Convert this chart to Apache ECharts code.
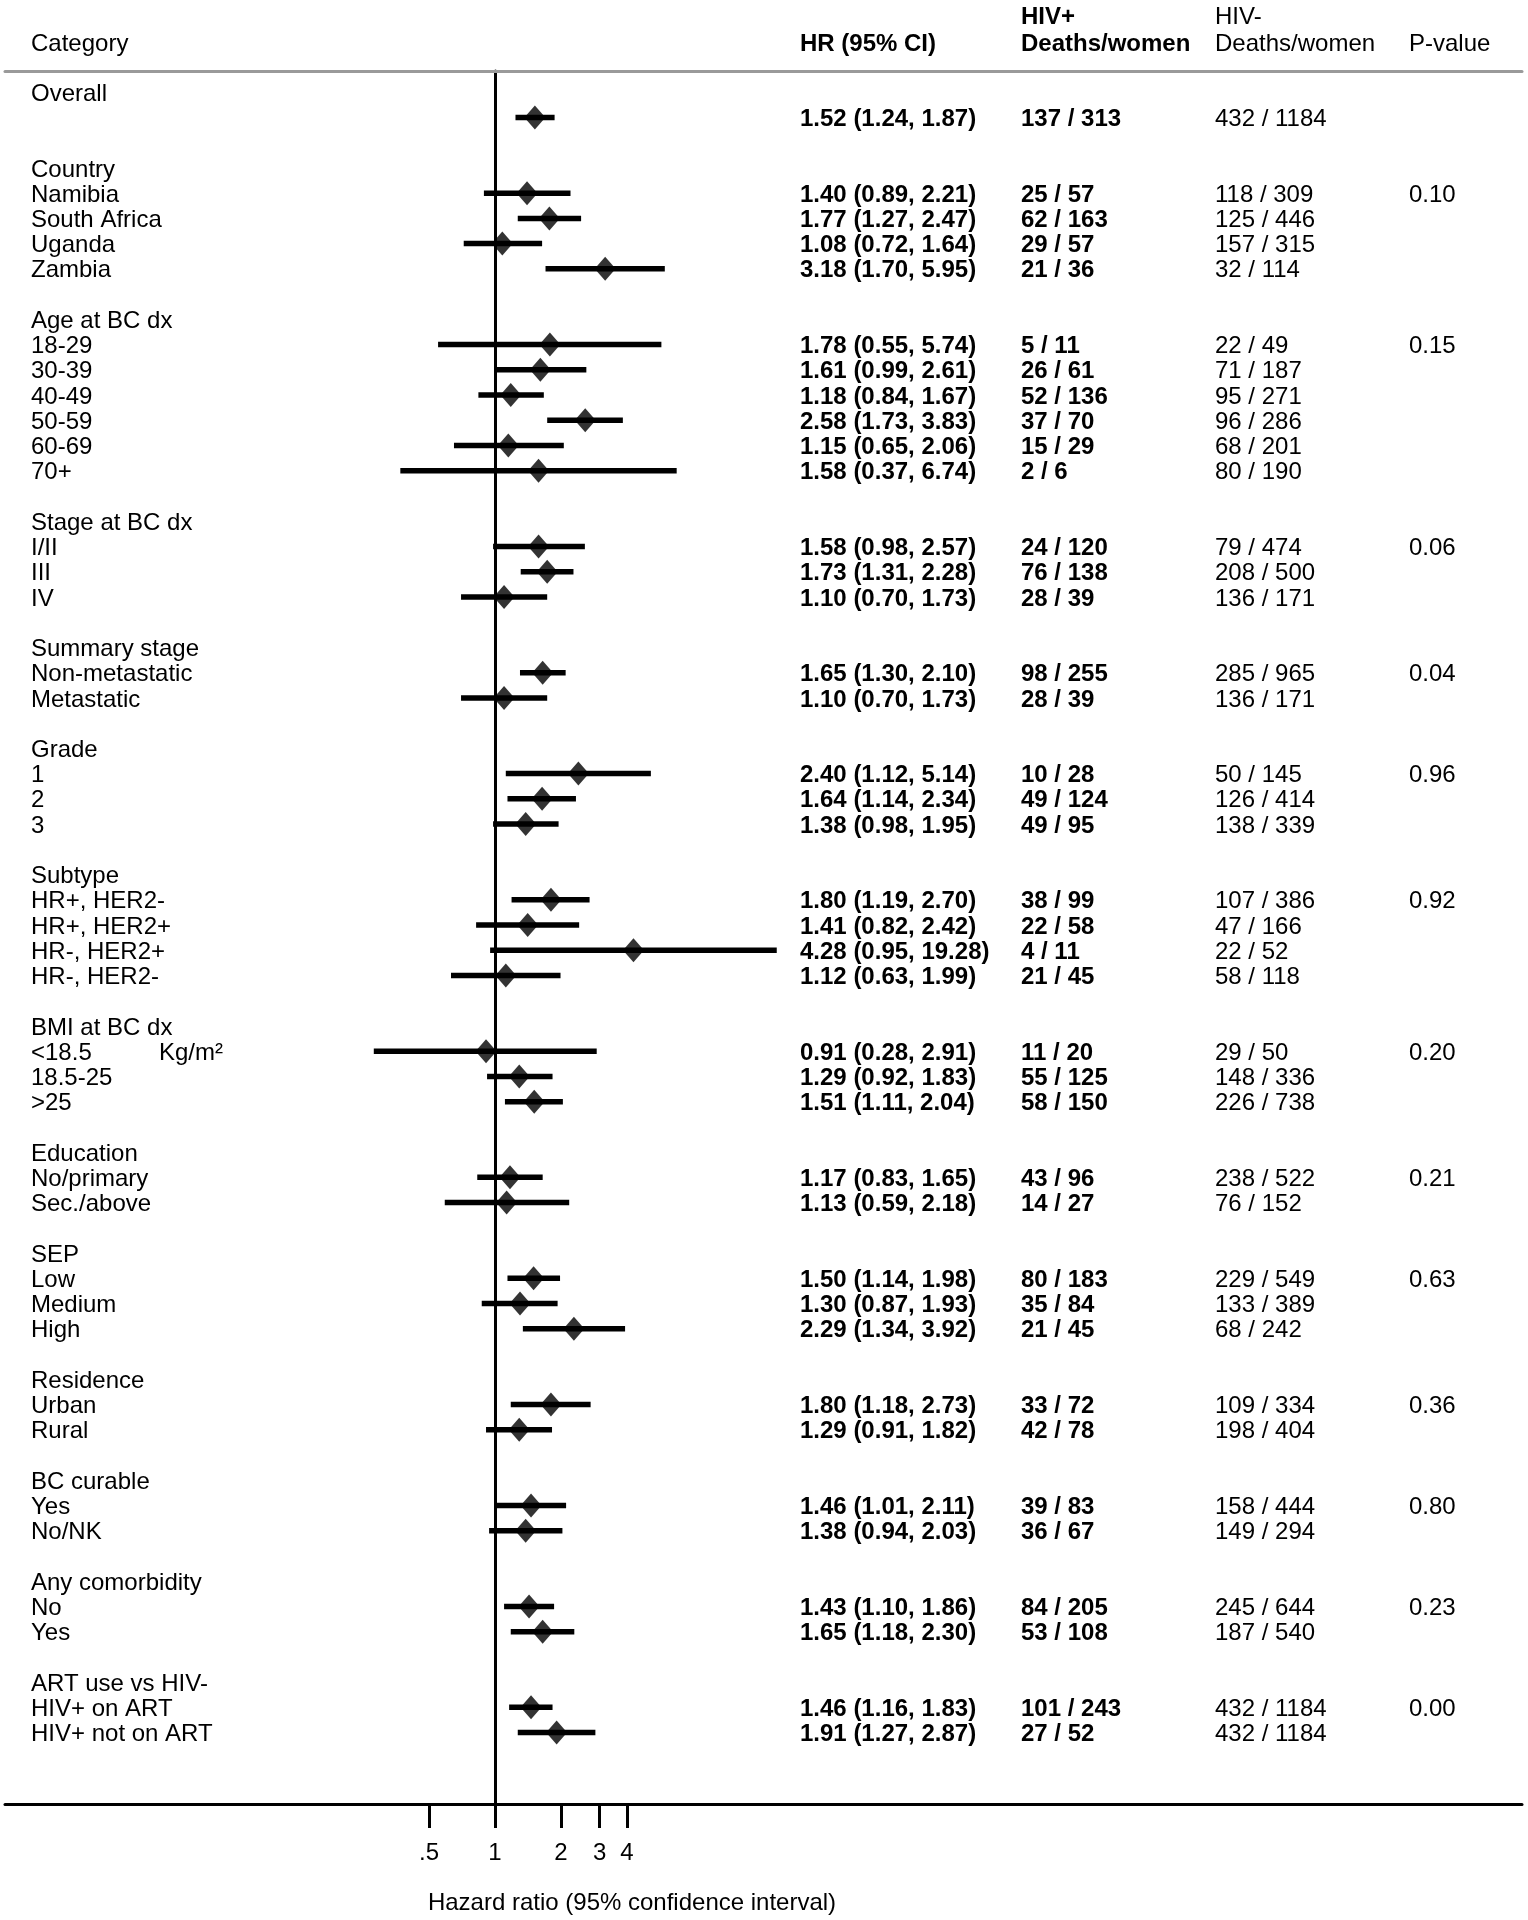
<!DOCTYPE html>
<html>
<head>
<meta charset="utf-8">
<script src="https://cdn.jsdelivr.net/npm/echarts@6/dist/echarts.min.js"></script>
<style>
  html, body { margin: 0; padding: 0; background: #fff; }
  #chart { width: 1528px; height: 1920px; }
</style>
</head>
<body>
<div id="chart"></div>
<script>
// groups and their rows
const groupTitles = ['Overall', 'Country', 'Age at BC dx', 'Stage at BC dx', 'Summary stage', 'Grade', 'Subtype',
  'BMI at BC dx', 'Education', 'SEP', 'Residence', 'BC curable', 'Any comorbidity', 'ART use vs HIV-']
const groupItems = [
  [''],
  ['Namibia', 'South Africa', 'Uganda', 'Zambia'],
  ['18-29', '30-39', '40-49', '50-59', '60-69', '70+'],
  ['I/II', 'III', 'IV'],
  ['Non-metastatic', 'Metastatic'],
  ['1', '2', '3'],
  ['HR+, HER2-', 'HR+, HER2+', 'HR-, HER2+', 'HR-, HER2-'],
  ['<18.5', '18.5-25', '>25'],
  ['No/primary', 'Sec./above'],
  ['Low', 'Medium', 'High'],
  ['Urban', 'Rural'],
  ['Yes', 'No/NK'],
  ['No', 'Yes'],
  ['HIV+ on ART', 'HIV+ not on ART'],
]
const pValues = ['', '0.10', '0.15', '0.06', '0.04', '0.96', '0.92', '0.20', '0.21', '0.63', '0.36', '0.80', '0.23', '0.00']

// hazard ratios and 95% CI, one per item
const hr = [1.52,
  1.40, 1.77, 1.08, 3.18,
  1.78, 1.61, 1.18, 2.58, 1.15, 1.58,
  1.58, 1.73, 1.10,
  1.65, 1.10,
  2.40, 1.64, 1.38,
  1.80, 1.41, 4.28, 1.12,
  0.91, 1.29, 1.51,
  1.17, 1.13,
  1.50, 1.30, 2.29,
  1.80, 1.29,
  1.46, 1.38,
  1.43, 1.65,
  1.46, 1.91]
const ciLow = [1.24,
  0.89, 1.27, 0.72, 1.70,
  0.55, 0.99, 0.84, 1.73, 0.65, 0.37,
  0.98, 1.31, 0.70,
  1.30, 0.70,
  1.12, 1.14, 0.98,
  1.19, 0.82, 0.95, 0.63,
  0.28, 0.92, 1.11,
  0.83, 0.59,
  1.14, 0.87, 1.34,
  1.18, 0.91,
  1.01, 0.94,
  1.10, 1.18,
  1.16, 1.27]
const ciHigh = [1.87,
  2.21, 2.47, 1.64, 5.95,
  5.74, 2.61, 1.67, 3.83, 2.06, 6.74,
  2.57, 2.28, 1.73,
  2.10, 1.73,
  5.14, 2.34, 1.95,
  2.70, 2.42, 19.28, 1.99,
  2.91, 1.83, 2.04,
  1.65, 2.18,
  1.98, 1.93, 3.92,
  2.73, 1.82,
  2.11, 2.03,
  1.86, 2.30,
  1.83, 2.87]

// deaths / women
const hivPosDeaths = [137, 25, 62, 29, 21, 5, 26, 52, 37, 15, 2, 24, 76, 28, 98, 28, 10, 49, 49,
  38, 22, 4, 21, 11, 55, 58, 43, 14, 80, 35, 21, 33, 42, 39, 36, 84, 53, 101, 27]
const hivPosWomen = [313, 57, 163, 57, 36, 11, 61, 136, 70, 29, 6, 120, 138, 39, 255, 39, 28, 124, 95,
  99, 58, 11, 45, 20, 125, 150, 96, 27, 183, 84, 45, 72, 78, 83, 67, 205, 108, 243, 52]
const hivNegDeaths = [432, 118, 125, 157, 32, 22, 71, 95, 96, 68, 80, 79, 208, 136, 285, 136, 50, 126, 138,
  107, 47, 22, 58, 29, 148, 226, 238, 76, 229, 133, 68, 109, 198, 158, 149, 245, 187, 432, 432]
const hivNegWomen = [1184, 309, 446, 315, 114, 49, 187, 271, 286, 201, 190, 474, 500, 171, 965, 171, 145, 414, 339,
  386, 166, 52, 118, 50, 336, 738, 522, 152, 549, 389, 242, 334, 404, 444, 294, 644, 540, 1184, 1184]

const tickValues = [0.5, 1, 2, 3, 4]
const tickLabels = ['.5', '1', '2', '3', '4']
const bmiUnit = 'Kg/m\u00b2'

const FONT = '"Liberation Sans", Arial, Helvetica, sans-serif'
const FS = 24
const TEXT_DY = 2
// column x positions (px)
const COL = { label: 31, unit: 159, hr: 800, pos: 1021, neg: 1215, p: 1409 }
// x axis: log2 scale, HR = 1 at px 495, 66 px per doubling
const PX_ONE = 495
const PX_PER = 66
const GRID_L = 5
const GRID_R = 1522

const log2 = (v) => Math.log(v) / Math.LN2

// lay out rows
const textRows = []
const ciData = []
const pointData = []
let row = 0
let k = 0
groupTitles.forEach((title, g) => {
  textRows.push({ row, label: title })
  groupItems[g].forEach((lab, i) => {
    const r = row + 1 + i
    textRows.push({
      row: r,
      label: lab,
      unit: lab === '<18.5' ? bmiUnit : '',
      hr: hr[k].toFixed(2) + ' (' + ciLow[k].toFixed(2) + ', ' + ciHigh[k].toFixed(2) + ')',
      pos: hivPosDeaths[k] + ' / ' + hivPosWomen[k],
      neg: hivNegDeaths[k] + ' / ' + hivNegWomen[k],
      p: i === 0 ? pValues[g] : '',
    })
    ciData.push([log2(ciLow[k]), log2(ciHigh[k]), r])
    pointData.push([log2(hr[k]), r])
    k++
  })
  row += groupItems[g].length + 2
})

function txt(x, y, s, bold, align) {
  return {
    type: 'text',
    x, y,
    style: {
      text: s,
      fill: '#000',
      font: (bold ? 'bold ' : '') + FS + 'px ' + FONT,
      align: align || 'left', verticalAlign: 'middle',
      textAlign: align || 'left', textVerticalAlign: 'middle',
    },
  }
}

const chart = echarts.init(document.getElementById('chart'))

const xMin = (GRID_L - PX_ONE) / PX_PER
const xMax = (GRID_R - PX_ONE) / PX_PER
const tickPos = tickValues.map(log2)

const option = {
  animation: false,
  backgroundColor: '#fff',
  grid: {
    left: GRID_L,
    right: 1528 - GRID_R,
    top: 71,
    bottom: 116,
    outerBoundsMode: 'none',
  },
  xAxis: [
    {
      type: 'value',
      position: 'bottom',
      min: xMin,
      max: xMax,
      axisLine: { show: true, onZero: false, lineStyle: { color: '#000', width: 3 } },
      axisTick: { show: true, customValues: tickPos, length: 24, lineStyle: { color: '#000', width: 3 } },
      axisLabel: {
        customValues: tickPos,
        margin: 37,
        color: '#000',
        fontSize: FS,
        fontFamily: FONT,
        formatter: (v) => {
          const i = tickPos.findIndex((t) => Math.abs(t - v) < 1e-6)
          return i >= 0 ? tickLabels[i] : ''
        },
      },
      splitLine: { show: false },
    },
    {
      type: 'value',
      position: 'top',
      min: xMin,
      max: xMax,
      axisLine: { show: true, onZero: false, lineStyle: { color: '#9a9a9a', width: 3 } },
      axisTick: { show: false },
      axisLabel: { show: false },
      splitLine: { show: false },
    },
  ],
  yAxis: {
    type: 'value',
    inverse: true,
    min: -0.84,
    max: 67.83,
    axisLine: { show: true, onZero: true, lineStyle: { color: '#000', width: 3 } },
    axisTick: { show: false },
    axisLabel: { show: false },
    splitLine: { show: false },
  },
  graphic: [
    txt(COL.label, 44, 'Category', false),
    txt(COL.hr, 44, 'HR (95% CI)', true),
    txt(COL.pos, 17, 'HIV+', true),
    txt(COL.pos, 44, 'Deaths/women', true),
    txt(COL.neg, 17, 'HIV-', false),
    txt(COL.neg, 44, 'Deaths/women', false),
    txt(COL.p, 44, 'P-value', false),
    txt(632, 1903, 'Hazard ratio (95% confidence interval)', false, 'center'),
  ],
  series: [
    {
      // table text
      type: 'custom',
      clip: false,
      silent: true,
      data: textRows.map((t) => [0, t.row]),
      encode: { x: 0, y: 1 },
      renderItem: (params, api) => {
        const t = textRows[params.dataIndex]
        const y = api.coord([0, t.row])[1] + TEXT_DY
        const children = []
        if (t.label) children.push(txt(COL.label, y, t.label, false))
        if (t.unit) children.push(txt(COL.unit, y, t.unit, false))
        if (t.hr) children.push(txt(COL.hr, y, t.hr, true))
        if (t.pos) children.push(txt(COL.pos, y, t.pos, true))
        if (t.neg) children.push(txt(COL.neg, y, t.neg, false))
        if (t.p) children.push(txt(COL.p, y, t.p, false))
        return { type: 'group', children }
      },
    },
    {
      // confidence intervals
      type: 'custom',
      silent: true,
      data: ciData,
      encode: { x: [0, 1], y: 2 },
      renderItem: (params, api) => {
        const a = api.coord([api.value(0), api.value(2)])
        const b = api.coord([api.value(1), api.value(2)])
        return {
          type: 'line',
          shape: { x1: a[0], y1: a[1], x2: b[0], y2: b[1] },
          style: { stroke: '#000', lineWidth: 5.5, lineCap: 'butt' },
        }
      },
    },
    {
      type: 'scatter',
      silent: true,
      symbol: 'diamond',
      symbolSize: [21, 24],
      itemStyle: { color: '#000' },
      data: pointData,
      z: 5,
    },
  ],
}

chart.setOption(option)
</script>
</body>
</html>
